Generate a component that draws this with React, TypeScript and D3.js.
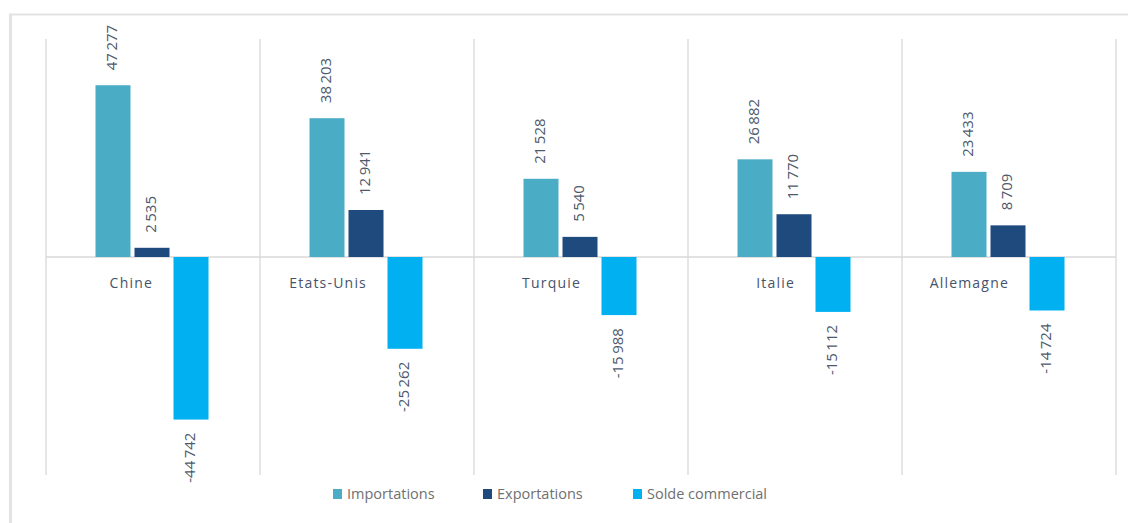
import React from "react";
import * as d3 from "d3";

const categories = ["Chine", "Etats-Unis", "Turquie", "Italie", "Allemagne"];
const seriesNames = ["Importations", "Exportations", "Solde commercial"];
const importations = [47277, 38203, 21528, 26882, 23433];
const exportations = [2535, 12941, 5540, 11770, 8709];
const solde = [-44742, -25262, -15988, -15112, -14724];
const colors = ["#4bacc6", "#1f4a7e", "#00b0f0"];
const yDomain = [-60000, 60000];

const W = 1128;
const H = 523;
const plot = { left: 46, right: 1116, top: 39, bottom: 475 };

const fmt = (v: number) => {
  const s = d3.format(",")(Math.abs(v)).replace(/,/g, "\u2009");
  return (v < 0 ? "-" : "") + s;
};

export default function App() {
  const x0 = d3.scaleBand<string>().domain(categories).range([plot.left, plot.right]).paddingInner(0).paddingOuter(0);
  const y = d3.scaleLinear().domain(yDomain).range([plot.bottom, plot.top]);
  const barW = 35;
  const gap = 4;
  const groupW = 3 * barW + 2 * gap;
  const x1 = d3
    .scaleOrdinal<string, number>()
    .domain(seriesNames)
    .range([0, barW + gap, 2 * (barW + gap)]);
  const data = [importations, exportations, solde];
  const y0 = y(0);
  const font = "'Open Sans', 'DejaVu Sans', sans-serif";
  const legendItems = [
    { name: seriesNames[0], x: 333 },
    { name: seriesNames[1], x: 483 },
    { name: seriesNames[2], x: 633 },
  ];
  const bounds = [...categories.map((c) => x0(c) as number), plot.right];

  return (
    <svg width={W} height={H} style={{ position: "absolute", left: 0, top: 0, background: "#fff" }}>
      {/* frame */}
      <line x1={9} x2={W} y1={14.5} y2={14.5} stroke="#e3e3e3" strokeWidth={2} />
      <line x1={10.5} x2={10.5} y1={14} y2={H} stroke="#e3e3e3" strokeWidth={3} />
      {/* vertical separators */}
      {bounds.map((bx, i) => (
        <line key={i} x1={bx} x2={bx} y1={plot.top} y2={plot.bottom} stroke="#d9d9d9" strokeWidth={1.3} />
      ))}
      {/* baseline */}
      <line x1={plot.left} x2={plot.right} y1={y0} y2={y0} stroke="#d9d9d9" strokeWidth={1.3} />
      {/* bars */}
      {categories.map((c, ci) => {
        const gx = (x0(c) as number) + (x0.bandwidth() - groupW) / 2 - 1;
        return (
          <g key={c}>
            {seriesNames.map((s, si) => {
              const v = data[si][ci];
              const bx = gx + (x1(s) as number);
              const top = Math.min(y(v), y0);
              const h = Math.abs(y(v) - y0);
              const cx = bx + barW / 2;
              const ly = v >= 0 ? y(v) - 15 : y(v) + 13;
              return (
                <g key={s}>
                  <rect x={bx} y={top} width={barW} height={h} fill={colors[si]} />
                  <text
                    transform={`translate(${cx + 4},${ly}) rotate(-90)`}
                    textAnchor={v >= 0 ? "start" : "end"}
                    fontFamily={font}
                    fontSize={15}
                    fill="#4e5a6c"
                  >
                    {fmt(v)}
                  </text>
                </g>
              );
            })}
            <text
              x={(x0(c) as number) + x0.bandwidth() / 2}
              y={288}
              textAnchor="end"
              fontFamily={font}
              fontSize={14}
              letterSpacing={1.2}
              fill="#46536a"
            >
              {c}
            </text>
          </g>
        );
      })}
      {/* legend */}
      {legendItems.map((it, i) => (
        <g key={it.name}>
          <rect x={it.x} y={489} width={9} height={10} fill={colors[i]} />
          <text x={it.x + 14} y={499} fontFamily={font} fontSize={14.5} fill="#707070">
            {it.name}
          </text>
        </g>
      ))}
    </svg>
  );
}
